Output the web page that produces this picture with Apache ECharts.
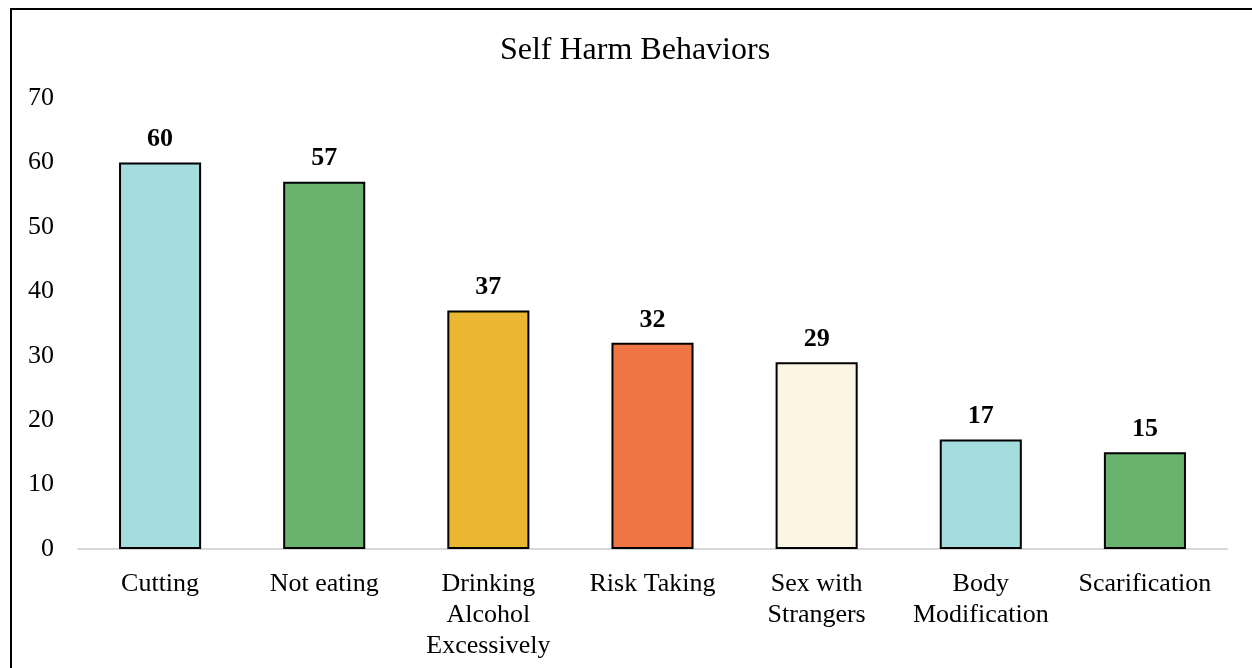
<!DOCTYPE html>
<html>
<head>
<meta charset="utf-8">
<script src="https://cdn.jsdelivr.net/npm/echarts@6/dist/echarts.min.js"></script>
<style>
html,body{margin:0;padding:0;background:#fff;}
#c{width:1252px;height:668px;}
</style>
</head>
<body>
<div id="c"></div>
<script>
const categories = ['Cutting', 'Not eating', 'Drinking\nAlcohol\nExcessively', 'Risk Taking', 'Sex with\nStrangers', 'Body\nModification', 'Scarification'];
const values = [60, 57, 37, 32, 29, 17, 15];
const barColors = ['#A5DCDE', '#69B36E', '#EBB631', '#EF7544', '#FDF5E3', '#A5DCDE', '#69B36E'];
const yTicks = [0, 10, 20, 30, 40, 50, 60, 70];

const font = '"Liberation Serif", "Times New Roman", serif';
const chart = echarts.init(document.getElementById('c'));
chart.setOption({
  animation: false,
  backgroundColor: '#fff',
  textStyle: { fontFamily: font },
  title: {
    text: 'Self Harm Behaviors',
    left: 630, top: 30,
    textAlign: 'center',
    textStyle: { fontFamily: font, fontSize: 32, fontWeight: 'normal', color: '#000' }
  },
  graphic: [{
    type: 'rect', silent: true, z: 100,
    shape: { x: 11, y: 9, width: 1270, height: 700 },
    style: { fill: 'none', stroke: '#000', lineWidth: 2 }
  }],
  grid: { left: 78, right: 25, top: 98, bottom: 119, containLabel: false },
  xAxis: {
    type: 'category',
    data: categories,
    axisLine: { lineStyle: { color: '#D9D9D9', width: 2 } },
    axisTick: { show: false },
    axisLabel: { fontFamily: font, fontSize: 26, color: '#000', lineHeight: 31, margin: 20, interval: 0 }
  },
  yAxis: {
    type: 'value',
    min: yTicks[0], max: yTicks[yTicks.length - 1], interval: 10,
    axisLine: { show: false },
    axisTick: { show: false },
    splitLine: { show: false },
    axisLabel: { fontFamily: font, fontSize: 26, color: '#000', margin: 24 }
  },
  series: [{
    type: 'bar',
    barWidth: '50%',
    data: values.map((v, i) => ({ value: v, itemStyle: { color: barColors[i] } })),
    itemStyle: { borderColor: '#000', borderWidth: 2 },
    label: {
      show: true, position: 'top', distance: 10,
      fontFamily: font, fontSize: 26, fontWeight: 'bold', color: '#000'
    }
  }]
});
</script>
</body>
</html>
